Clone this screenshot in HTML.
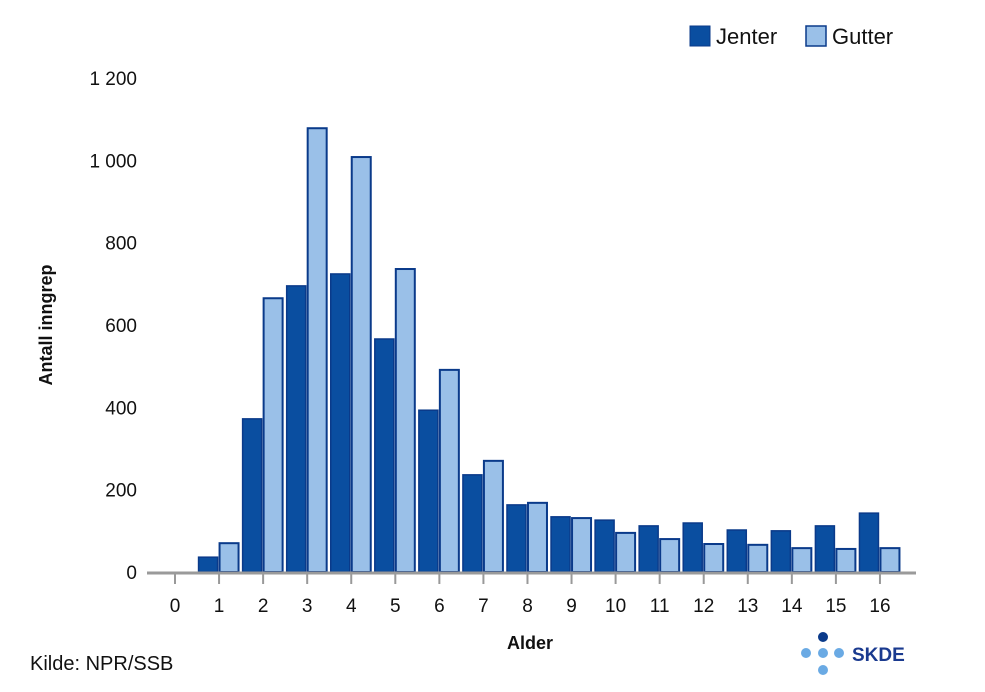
<!DOCTYPE html>
<html><head><meta charset="utf-8"><style>
body{margin:0;background:#fff;font-family:"Liberation Sans",sans-serif}
svg text{font-family:"Liberation Sans",sans-serif}
</style></head><body>
<svg width="985" height="687" viewBox="0 0 985 687">
<g id="plot"></g>
<g>
<rect x="690" y="26" width="20" height="20" fill="#0a4ea0" stroke="#0a3a8a"/>
<text x="716" y="44" font-size="22" fill="#111">Jenter</text>
<rect x="806" y="26" width="20" height="20" fill="#9ac0e8" stroke="#0a3a8a" stroke-width="1.5"/>
<text x="832" y="44" font-size="22" fill="#111">Gutter</text>
</g>
<text transform="translate(52,325) rotate(-90)" text-anchor="middle" font-size="18" font-weight="bold" fill="#111">Antall inngrep</text>
<text x="530" y="649" text-anchor="middle" font-size="18" font-weight="bold" fill="#111">Alder</text>
<text x="30" y="670" font-size="20" fill="#111">Kilde: NPR/SSB</text>
<g>
<circle cx="823" cy="637" r="5" fill="#0a3a8a"/>
<circle cx="806" cy="653" r="5" fill="#6aaae4"/>
<circle cx="823" cy="653" r="5" fill="#6aaae4"/>
<circle cx="839" cy="653" r="5" fill="#6aaae4"/>
<circle cx="823" cy="670" r="5" fill="#6aaae4"/>
<text x="852" y="661" font-size="19" font-weight="bold" fill="#1a3a8f">SKDE</text>
</g>
</svg>
<script>
const categories=["0","1","2","3","4","5","6","7","8","9","10","11","12","13","14","15","16"];
const jenter=[0,36,372,695,724,566,393,236,163,134,126,112,119,102,100,112,143];
const gutter=[0,70,665,1078,1008,736,491,270,168,131,95,80,68,66,58,56,58];
const yTicks=[0,200,400,600,800,1000,1200];
const yTickLabels=["0","200","400","600","800","1 000","1 200"];
const NS="http://www.w3.org/2000/svg";
const g=document.getElementById('plot');
function y(v){return 572-v*(494/1200);}
function xc(i){return 175+i*44.06;}
function mk(t,a){const e=document.createElementNS(NS,t);for(const k in a)e.setAttribute(k,a[k]);g.appendChild(e);return e;}
yTicks.forEach((v,i)=>{
 const t=mk('text',{x:137,y:y(v)+7,'text-anchor':'end','font-size':19,fill:'#111'});
 t.textContent=yTickLabels[i];
 
 
});
categories.forEach((c,i)=>{
 const cx=xc(i);
 if(jenter[i]>0){const r=mk('rect',{x:cx-20.5,y:y(jenter[i]),width:19,height:572-y(jenter[i]),fill:'#0a4ea0',stroke:'#0a3a8a','stroke-width':1.5});
 
 }
 if(gutter[i]>0){const r=mk('rect',{x:cx+0.5,y:y(gutter[i]),width:19,height:572-y(gutter[i]),fill:'#9ac0e8',stroke:'#0a3a8a','stroke-width':2});
 
 }
 const tk=mk('line',{x1:cx,x2:cx,y1:573,y2:584,stroke:'#999','stroke-width':2});
 
 
 const t=mk('text',{x:cx,y:612,'text-anchor':'middle','font-size':19,fill:'#111'});
 t.textContent=c;
 
 
});
const ax=mk('line',{x1:147,x2:916,y1:573,y2:573,stroke:'#9a9a9a','stroke-width':3});


</script>
</body></html>
